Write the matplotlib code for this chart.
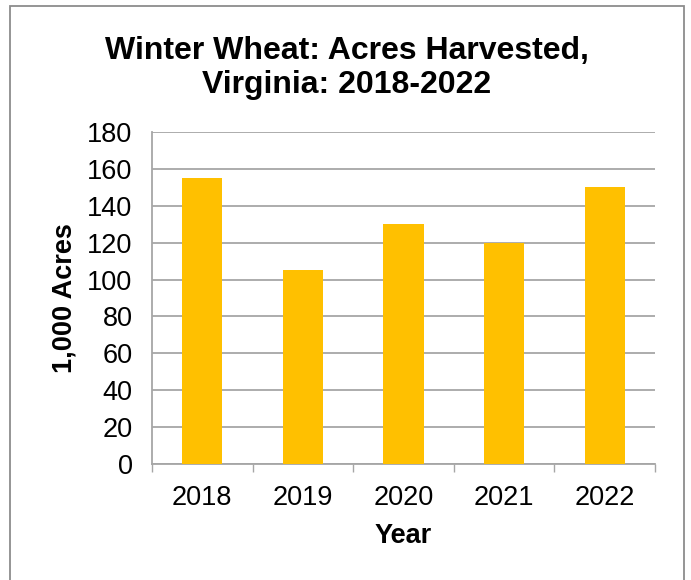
import numpy as np
import matplotlib.pyplot as plt
from matplotlib.patches import Rectangle

plt.rcParams['font.family'] = ['Liberation Sans', 'DejaVu Sans']

years = ['2018', '2019', '2020', '2021', '2022']
acres = [155, 105, 130, 120, 150]

W, H = 691, 580
fig = plt.figure(figsize=(W / 100, H / 100), dpi=100)

# plot area in pixel terms: x 152..655, y 132..464
ax = fig.add_axes([152 / W, 1 - 464 / H, (655 - 152) / W, (464 - 132) / H])

x = np.arange(len(years))
ax.bar(x, acres, width=0.4, color='#FFC000', zorder=3)

ax.set_xlim(-0.5, len(years) - 0.5)
ax.set_ylim(0, 180)
ax.set_yticks(np.arange(0, 181, 20))
ax.yaxis.grid(True, color='#a6a6a6', linewidth=1.3)
ax.set_axisbelow(True)

ax.set_xticks(x)
ax.set_xticklabels(years)
ax.set_xticks(np.arange(-0.5, len(years)), minor=True)
ax.tick_params(axis='x', which='major', length=0, pad=15, labelsize=19.5)
ax.tick_params(axis='x', which='minor', length=6, width=1, color='#a6a6a6', direction='out')
ax.tick_params(axis='y', length=0, pad=14, labelsize=19.5)

for s in ['top', 'right']:
    ax.spines[s].set_visible(False)
for s in ['left', 'bottom']:
    ax.spines[s].set_color('#a6a6a6')
    ax.spines[s].set_linewidth(1.3)

ax.set_xlabel('Year', fontsize=19.5, fontweight='bold', labelpad=9)
ax.set_ylabel('1,000 Acres', fontsize=19.5, fontweight='bold', labelpad=7)

fig.text(0.5 * (10 + 684) / W, 1 - 68 / H, 'Winter Wheat: Acres Harvested,\nVirginia: 2018-2022',
         ha='center', va='center', fontsize=23, fontweight='bold', linespacing=1.15)

fig.add_artist(Rectangle((10 / W, -0.05), (684 - 10) / W, 1.05 - 6 / H,
                         transform=fig.transFigure, fill=False,
                         edgecolor='#8c8c8c', linewidth=1.3))

fig.savefig('out.png', dpi=100)
